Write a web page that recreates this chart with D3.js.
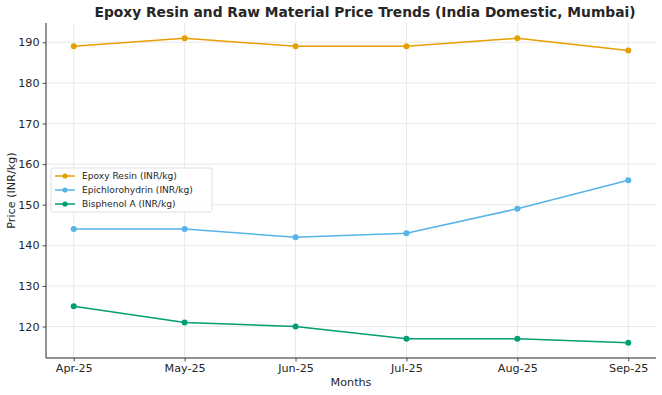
<!DOCTYPE html>
<html>
<head>
<meta charset="utf-8">
<script src="https://cdn.jsdelivr.net/npm/d3@7"></script>
<style>
  body { margin: 0; background: #fff; }
  text { font-family: "DejaVu Sans", sans-serif; }
</style>
</head>
<body>
<div id="chart"></div>
<script>
var months = ["Apr-25", "May-25", "Jun-25", "Jul-25", "Aug-25", "Sep-25"];
var epoxyResin = [189, 191, 189, 189, 191, 188];
var epichlorohydrin = [144, 144, 142, 143, 149, 156];
var bisphenolA = [125, 121, 120, 117, 117, 116];
var yTicks = [120, 130, 140, 150, 160, 170, 180, 190];

var series = [
    {name: "Epoxy Resin (INR/kg)", values: epoxyResin, color: "#E69F00"},
    {name: "Epichlorohydrin (INR/kg)", values: epichlorohydrin, color: "#56B4E9"},
    {name: "Bisphenol A (INR/kg)", values: bisphenolA, color: "#009E73"}
];

var W = 662, H = 395;
var margin = {top: 23, right: 6, bottom: 37, left: 46},
    width = W - margin.left - margin.right,
    height = H - margin.top - margin.bottom;

var svg = d3.select("#chart")
  .append("svg")
    .attr("width", W)
    .attr("height", H);

var g = svg.append("g")
    .attr("transform", "translate(" + margin.left + "," + margin.top + ")");

// point scale with matplotlib-style 5% padding
var x = d3.scalePoint()
    .domain(months)
    .range([0, width])
    .padding(0.25);

var y = d3.scaleLinear()
    .domain([112.25, 194.75])
    .range([height, 0]);

// grid
g.append("g").selectAll("line")
    .data(yTicks).enter().append("line")
    .attr("x1", 0).attr("x2", width)
    .attr("y1", function(d) { return y(d); })
    .attr("y2", function(d) { return y(d); })
    .attr("stroke", "#e4e4e4")
    .attr("stroke-width", 0.8);

g.append("g").selectAll("line")
    .data(months).enter().append("line")
    .attr("x1", function(d) { return x(d); })
    .attr("x2", function(d) { return x(d); })
    .attr("y1", 0).attr("y2", height)
    .attr("stroke", "#e4e4e4")
    .attr("stroke-width", 0.8);

// axes
var xAxis = g.append("g")
    .attr("transform", "translate(0," + height + ")")
    .call(d3.axisBottom(x).tickSizeOuter(0).tickSize(3.5).tickPadding(3));

var yAxis = g.append("g")
    .call(d3.axisLeft(y).tickValues(yTicks).tickSizeOuter(0).tickSize(3.5).tickPadding(3));

[xAxis, yAxis].forEach(function(a) {
    a.selectAll("text").attr("font-size", 11.2).attr("fill", "#262626")
        .attr("font-family", "DejaVu Sans, sans-serif");
    a.selectAll("line").attr("stroke", "#262626").attr("stroke-width", 0.8);
    a.select(".domain").attr("stroke", "#262626").attr("stroke-width", 1);
});
xAxis.select(".domain").attr("d", "M0,0H" + width);
yAxis.select(".domain").attr("d", "M0," + height + "V0");

// lines
var line = d3.line()
    .x(function(d, i) { return x(months[i]); })
    .y(function(d) { return y(d); });

series.forEach(function(s) {
    g.append("path")
        .datum(s.values)
        .attr("fill", "none")
        .attr("stroke", s.color)
        .attr("stroke-width", 1.5)
        .attr("d", line);

    g.append("g").selectAll("circle")
        .data(s.values).enter().append("circle")
        .attr("cx", function(d, i) { return x(months[i]); })
        .attr("cy", function(d) { return y(d); })
        .attr("r", 3)
        .attr("fill", s.color);
});

// title and labels
svg.append("text")
    .attr("x", 365)
    .attr("y", 17)
    .attr("text-anchor", "middle")
    .attr("font-size", 13.8)
    .attr("font-weight", "bold")
    .attr("fill", "#262626")
    .text("Epoxy Resin and Raw Material Price Trends (India Domestic, Mumbai)");

svg.append("text")
    .attr("x", margin.left + width / 2)
    .attr("y", 386)
    .attr("text-anchor", "middle")
    .attr("font-size", 11.2)
    .attr("fill", "#262626")
    .text("Months");

svg.append("text")
    .attr("transform", "translate(15," + (margin.top + height / 2) + ") rotate(-90)")
    .attr("text-anchor", "middle")
    .attr("font-size", 11.2)
    .attr("fill", "#262626")
    .text("Price (INR/kg)");

// legend
var legend = svg.append("g")
    .attr("transform", "translate(51,168)");

legend.append("rect")
    .attr("width", 161)
    .attr("height", 44)
    .attr("rx", 2)
    .attr("fill", "#fff")
    .attr("fill-opacity", 0.8)
    .attr("stroke", "#d8d8d8")
    .attr("stroke-width", 0.8);

series.forEach(function(s, i) {
    var row = legend.append("g")
        .attr("transform", "translate(0," + (8 + i * 14) + ")");
    row.append("line")
        .attr("x1", 4).attr("x2", 24)
        .attr("y1", 0).attr("y2", 0)
        .attr("stroke", s.color)
        .attr("stroke-width", 1.5);
    row.append("circle")
        .attr("cx", 14).attr("cy", 0).attr("r", 2.6)
        .attr("fill", s.color);
    row.append("text")
        .attr("x", 31).attr("y", 3.3)
        .attr("font-size", 9.1)
        .attr("fill", "#262626")
        .text(s.name);
});
</script>
</body>
</html>
